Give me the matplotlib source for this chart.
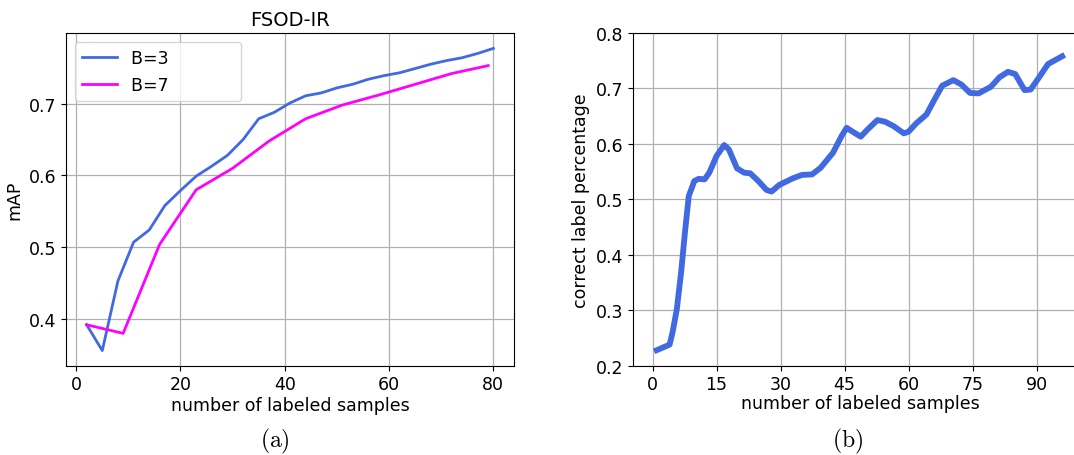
import matplotlib
matplotlib.use("Agg")
import matplotlib.pyplot as plt

plt.rcParams['font.family'] = ['DejaVu Sans']
plt.rcParams['mathtext.fontset'] = 'cm'

# ---- panel (a) data ----
b3_x = [2, 5, 8, 11, 14, 17, 20, 23, 26, 29, 32, 35, 38, 41, 44, 47, 50, 53, 56, 59, 62, 65, 68, 71, 74, 77, 80]
b3_y = [0.392, 0.356, 0.453, 0.507, 0.524, 0.558, 0.579, 0.599, 0.613, 0.628, 0.650, 0.679, 0.688, 0.701, 0.711,
        0.715, 0.722, 0.727, 0.734, 0.739, 0.743, 0.749, 0.755, 0.760, 0.764, 0.770, 0.777]
b7_x = [2, 9, 16, 23, 30, 37, 44, 51, 58, 65, 72, 79]
b7_y = [0.392, 0.380, 0.504, 0.580, 0.610, 0.648, 0.679, 0.698, 0.712, 0.727, 0.742, 0.753]

# ---- panel (b) data ----
b_x = [1, 4, 4.7, 5.7, 6.7, 7.6, 8.5, 9.8, 10.8, 12.2, 13.3, 15, 16.8, 17.9, 19.8, 21.5, 22.9, 24.8, 26.7,
       27.9, 29.7, 32.9, 35, 37.4, 39.4, 42.3, 44.3, 45.5, 46.7, 48.8, 50.4, 52.7, 54.5, 56.5, 58.9, 60,
       61.8, 64.2, 66.3, 67.9, 70.5, 72.4, 74.4, 76.4, 79.3, 81.3, 83.3, 85, 87.2, 88.6, 90.6, 92.7, 96]
b_y = [0.228, 0.238, 0.260, 0.302, 0.368, 0.440, 0.506, 0.533, 0.537, 0.536, 0.548, 0.578, 0.598, 0.590,
       0.556, 0.548, 0.547, 0.533, 0.517, 0.514, 0.526, 0.538, 0.544, 0.545, 0.557, 0.584, 0.614, 0.629,
       0.623, 0.613, 0.626, 0.643, 0.640, 0.632, 0.619, 0.622, 0.637, 0.653, 0.683, 0.705, 0.715, 0.707,
       0.692, 0.691, 0.703, 0.720, 0.730, 0.726, 0.697, 0.698, 0.720, 0.744, 0.758]

W, H = 1074, 456
fig = plt.figure(figsize=(W / 100, H / 100), dpi=100)

def frac(l, t, r, b):
    return [l / W, 1 - b / H, (r - l) / W, (b - t) / H]

# ---- (a) ----
ax1 = fig.add_axes(frac(66.3, 34.3, 513.7, 366.7))
ax1.plot(b3_x, b3_y, color='#4169E1', lw=2.0, label='B=3' + ' ' * 12)
ax1.plot(b7_x, b7_y, color='#FF00FF', lw=2.0, label='B=7' + ' ' * 12)
ax1.set_title('FSOD-IR', fontsize=14)
ax1.set_xlabel('number of labeled samples', fontsize=12.5, labelpad=2)
ax1.set_ylabel('mAP', fontsize=12.5)
ax1.set_xticks([0, 20, 40, 60, 80])
ax1.set_yticks([0.4, 0.5, 0.6, 0.7])
ax1.tick_params(labelsize=12.5)
ax1.grid(True, color='#b0b0b0', lw=0.9)
ax1.legend(loc='upper left', fontsize=12.5, handlelength=2.0)

# ---- (b) ----
left2 = 633.3
right2 = left2 + 108.5 * 4.267
ax2 = fig.add_axes(frac(left2, 34.0, right2, 366.7))
ax2.plot(b_x, b_y, color='#4169E1', lw=4.2)
ax2.set_xlim(-4.5, 104)
ax2.set_ylim(0.2, 0.8)
ax2.set_xticks([0, 15, 30, 45, 60, 75, 90])
ax2.set_yticks([0.2, 0.3, 0.4, 0.5, 0.6, 0.7, 0.8])
ax2.set_xlabel('number of labeled samples', fontsize=12.5, labelpad=2)
ax2.xaxis.set_label_coords((860.7 - left2) / (right2 - left2), -0.085)
ax2.set_ylabel('correct label percentage', fontsize=12.5)
ax2.tick_params(labelsize=12.5)
ax2.grid(True, color='#b0b0b0', lw=0.9)

# captions
fig.text(275 / W, 1 - 441 / H, r'$\mathrm{(a)}$', ha='center', va='center', fontsize=17)
fig.text(848 / W, 1 - 441 / H, r'$\mathrm{(b)}$', ha='center', va='center', fontsize=17)

fig.savefig('out.png', dpi=100)
